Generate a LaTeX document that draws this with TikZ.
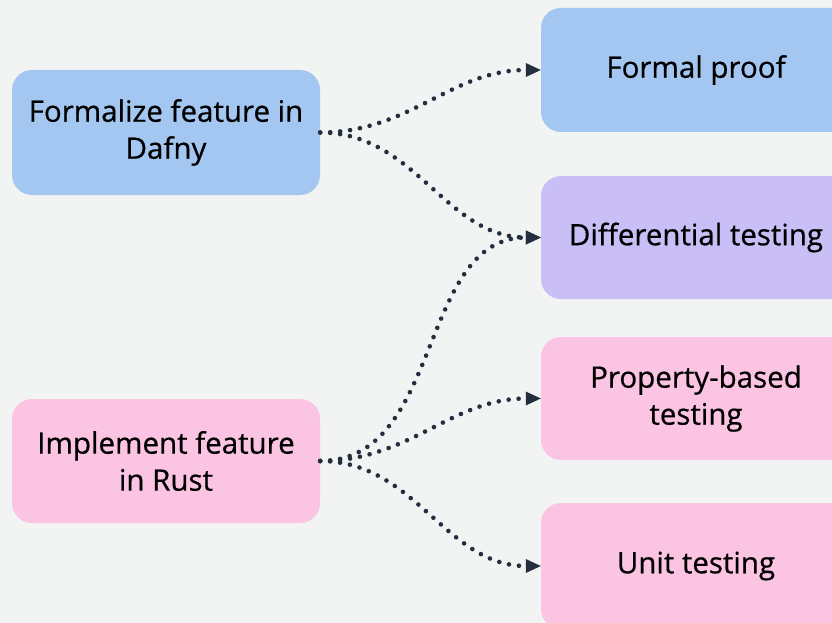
\documentclass[tikz,border=0pt]{standalone}
\usepackage{fontspec}
\setmainfont{Open Sans}
\newfontfamily\boxfont{Open Sans}[FakeBold=0.6]
\usetikzlibrary{arrows.meta}
\definecolor{bg}{HTML}{F2F3F3}
\definecolor{bluebox}{HTML}{A4C7F1}
\definecolor{purplebox}{HTML}{C9BEF6}
\definecolor{pinkbox}{HTML}{FBC4E2}
\definecolor{ink}{HTML}{232F3E}
\tikzset{
  box/.style={rectangle, rounded corners=20pt, draw=none, align=center,
    inner sep=0pt, font=\boxfont\fontsize{29.5}{37}\selectfont, text=black},
  conn/.style={draw=ink, line width=4.6pt, line cap=round,
    dash pattern=on 0pt off 10pt,
    -{Triangle[length=15pt,width=14pt,line width=0pt]},
    out=0, in=180},
}
\begin{document}
\begin{tikzpicture}[x=1pt,y=-1pt]
\fill[bg] (0,0) rectangle (832,623);
\useasboundingbox (0,0) rectangle (832,623);
\clip (0,0) rectangle (832,623);
\node[box, fill=bluebox, minimum width=308pt, minimum height=125pt] (A) at (166,132.5) {Formalize feature in\\Dafny};
\node[box, fill=pinkbox, minimum width=308pt, minimum height=124pt] (B) at (166,461) {Implement feature\\in Rust};
\node[box, fill=bluebox, minimum width=310pt, minimum height=124pt] (P1) at (696,70) {Formal proof};
\node[box, fill=purplebox, minimum width=310pt, minimum height=123pt] (P2) at (696,237.5) {Differential testing};
\node[box, fill=pinkbox, minimum width=310pt, minimum height=123pt] (P3) at (696,398.5) {Property-based\\testing};
\node[box, fill=pinkbox, minimum width=310pt, minimum height=126pt] (P4) at (696,566) {Unit testing};
\draw[conn] (A.east) to (P1.west);
\draw[conn] (A.east) to (P2.west);
\draw[conn] (B.east) to (P2.west);
\draw[conn] (B.east) to (P3.west);
\draw[conn] (B.east) to (P4.west);
\end{tikzpicture}
\end{document}
